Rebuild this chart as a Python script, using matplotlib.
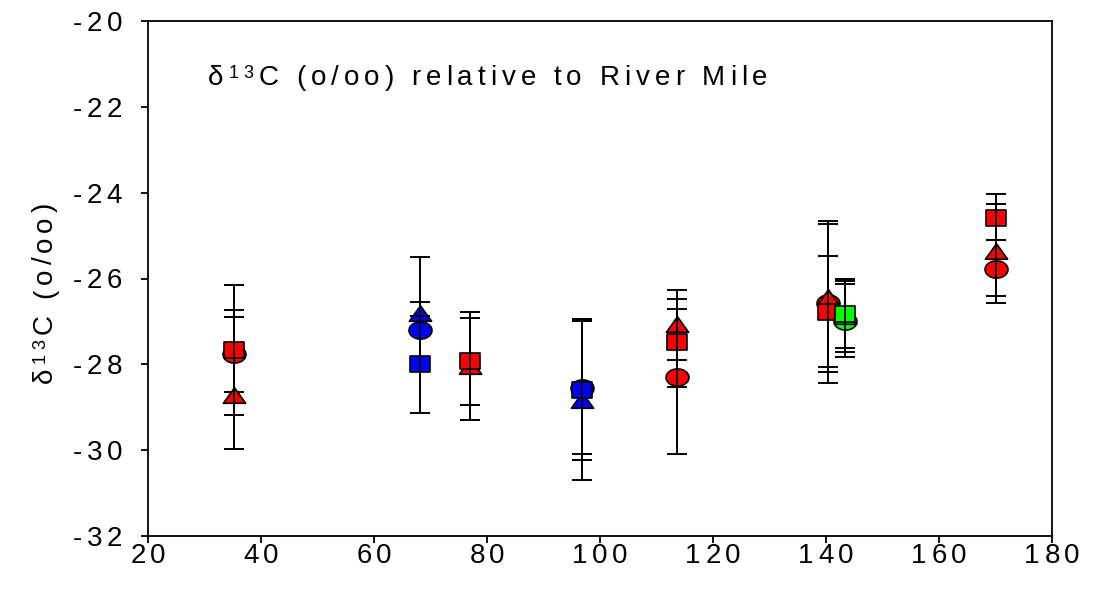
import numpy as np
import matplotlib
matplotlib.use("Agg")
import matplotlib.pyplot as plt
from matplotlib.path import Path
from matplotlib.transforms import IdentityTransform
from matplotlib import font_manager
from matplotlib.ft2font import FT2Font

FAMILY = 'Liberation Sans'
plt.rcParams['font.family'] = [FAMILY, 'DejaVu Sans']

# River mile positions of each sampling group
rm_red_circle = [35.3, 113.7, 140.4, 170.1]
rm_red_tri = [35.3, 77.0, 113.7, 140.4, 170.1]
rm_red_square = [35.3, 77.0, 113.7, 140.4, 170.1]
rm_blue = [68.1, 96.8]
rm_green = [143.4]

# delta 13C means and error-bar ends (o/oo)
red_circle = [-27.77, -28.29, -26.56, -25.77]
red_circle_lo = [-28.65, -30.10, -28.44, -26.41]
red_circle_hi = [-26.89, -26.71, -24.66, -25.11]

red_tri = [-28.72, -28.04, -27.05, -26.44, -25.37]
red_tri_lo = [-29.97, -29.29, -27.89, -28.18, -26.58]
red_tri_hi = [-26.74, -26.78, -26.26, -24.74, -24.27]

red_square = [-27.66, -27.93, -27.49, -26.77, -24.58]
red_square_lo = [-29.18, -28.94, -28.52, -28.06, -25.11]
red_square_hi = [-26.14, -26.91, -26.48, -25.48, -24.04]

blue_circle = [-27.21, -28.55]
blue_circle_lo = [-27.88, -30.09]
blue_circle_hi = [-26.54, -27.00]

blue_tri = [-26.80, -28.83]
blue_tri_lo = [-28.06, -30.69]
blue_tri_hi = [-25.49, -26.97]

blue_square = [-28.00, -28.60]
blue_square_lo = [-29.13, -30.23]
blue_square_hi = [-26.87, -26.95]

green_circle = [-26.98]
green_circle_lo = [-27.84]
green_circle_hi = [-26.12]

green_tri = [-26.88]
green_tri_lo = [-27.72]
green_tri_hi = [-26.05]

green_square = [-26.82]
green_square_lo = [-27.62]
green_square_hi = [-26.02]

x_ticks = [20, 40, 60, 80, 100, 120, 140, 160, 180]
y_ticks = [-32, -30, -28, -26, -24, -22, -20]

W, H, DPI = 1102, 597, 100

# markers are slightly wider than tall
t = np.linspace(0, 2 * np.pi, 64)
ellipse = Path(np.column_stack([0.5 * np.cos(t), 0.375 * np.sin(t)]), closed=True)
square = Path([(-0.5, -0.4), (0.5, -0.4), (0.5, 0.4), (-0.5, 0.4), (-0.5, -0.4)], closed=True)
triangle = Path([(0, 0.35), (-0.5, -0.35), (0.5, -0.35), (0, 0.35)], closed=True)

fig = plt.figure(figsize=(W / DPI, H / DPI), dpi=DPI)
ax = fig.add_axes([148 / W, 1 - 536 / H, (1052 - 148) / W, (536 - 21) / H])


def series(x, y, lo, hi, marker, ms, color, z):
    y = np.asarray(y)
    err = np.vstack([y - np.asarray(lo), np.asarray(hi) - y])
    ax.plot(x, y, linestyle='none', marker=marker, ms=ms, mfc=color,
            mec='black', mew=1.2, zorder=z)
    ax.errorbar(x, y, yerr=err, fmt='none', ecolor='black', elinewidth=1.4,
                capsize=7, capthick=1.4, zorder=z + 0.5)


groups = [
    ('#ff0000', (rm_red_circle, red_circle, red_circle_lo, red_circle_hi),
     (rm_red_tri, red_tri, red_tri_lo, red_tri_hi),
     (rm_red_square, red_square, red_square_lo, red_square_hi)),
    ('#0000ff', (rm_blue, blue_circle, blue_circle_lo, blue_circle_hi),
     (rm_blue, blue_tri, blue_tri_lo, blue_tri_hi),
     (rm_blue, blue_square, blue_square_lo, blue_square_hi)),
    ('#00ff00', (rm_green, green_circle, green_circle_lo, green_circle_hi),
     (rm_green, green_tri, green_tri_lo, green_tri_hi),
     (rm_green, green_square, green_square_lo, green_square_hi)),
]
z = 3
for color, circ, tri, sq in groups:
    series(*circ, ellipse, 16.5, color, z)
    series(*tri, triangle, 16.0, color, z + 1)
    series(*sq, square, 14.5, color, z + 2)
    z += 3

ax.set_xlim(20, 180)
ax.set_ylim(-32, -20)
ax.set_xticks(x_ticks)
ax.set_yticks(y_ticks)
ax.tick_params(direction='out', length=5, width=1.3, labelbottom=False, labelleft=False)
for sp in ax.spines.values():
    sp.set_linewidth(1.3)

# ---- letter-spaced text, laid out glyph by glyph in pixel units ----
_font_path = font_manager.findfont(font_manager.FontProperties(family=FAMILY))


def advance(ch, size):
    f = FT2Font(_font_path)
    f.set_size(size, DPI)
    g = f.load_char(ord(ch))
    return g.linearHoriAdvance / 65536.0


def run_width(segments, track):
    n = sum(len(s) for s, _, _ in segments)
    return sum(advance(c, sz) for s, sz, _ in segments for c in s) + track * (n - 1)


def spaced(x, y, segments, track, ha='left', vertical=False):
    """Draw segments [(text, size, raise_px)] with extra tracking.
    (x, y) are pixel coords from the top-left corner, on the baseline.
    Vertical text reads bottom to top, with the baseline at x."""
    total = run_width(segments, track)
    start = {'left': 0.0, 'center': total / 2.0, 'right': total}[ha]
    pos = -start
    for s, sz, rise in segments:
        for c in s:
            if vertical:
                fig.text(x - rise, H - (y - pos), c, transform=IdentityTransform(),
                         fontsize=sz, rotation=90, rotation_mode='anchor',
                         ha='left', va='baseline')
            else:
                fig.text(x + pos, H - (y - rise), c, transform=IdentityTransform(),
                         fontsize=sz, ha='left', va='baseline')
            pos += advance(c, sz) + track


LABEL_PT = 20
TRACK = 4.5
cap_px = 0.716 * LABEL_PT * DPI / 72

# tick labels placed through the axes transform
for v in y_ticks:
    _, yp = ax.transData.transform((20, v))
    spaced(122, (H - yp) + cap_px / 2, [('-%d' % abs(v), LABEL_PT, 0)], TRACK, ha='right')
for v in x_ticks:
    xp, _ = ax.transData.transform((v, -32))
    spaced(xp, 553 + cap_px / 2, [(str(v), LABEL_PT, 0)], TRACK, ha='center')

SUP_PT = 13
sup_rise = cap_px - 0.716 * SUP_PT * DPI / 72

# y-axis title, reading upward
spaced(42 + cap_px / 2, 293, [('δ', LABEL_PT, 0), ('13', SUP_PT, sup_rise),
                              ('C (o/oo)', LABEL_PT, 0)], TRACK, ha='center', vertical=True)

# panel title inside the axes
spaced(208, 75 + cap_px / 2, [('δ', LABEL_PT, 0), ('13', SUP_PT, sup_rise),
                              ('C (o/oo) relative to River Mile', LABEL_PT, 0)], 5.0, ha='left')

fig.savefig('out.png', dpi=DPI)
